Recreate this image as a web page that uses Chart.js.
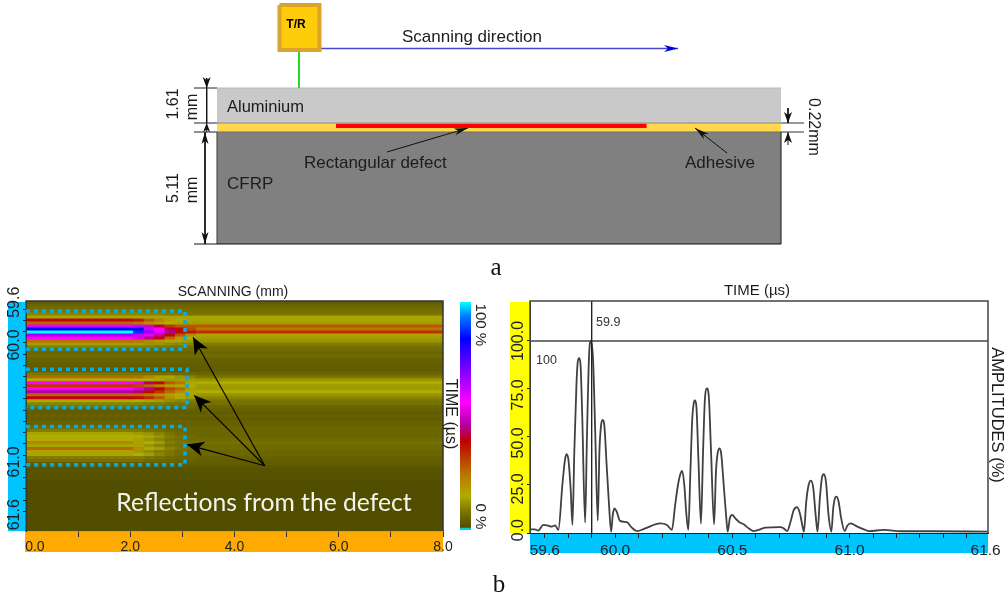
<!DOCTYPE html>
<html>
<head>
<meta charset="utf-8">
<title>Defect reflections</title>
<script src="https://cdn.jsdelivr.net/npm/chart.js@4"></script>
<style>
  html, body { margin: 0; background: #fff; }
  #page { position: relative; width: 1007px; height: 598px; overflow: hidden; }
  canvas { position: absolute; left: 0; top: 0; }
</style>
</head>
<body>
<div id="page"></div>
<script>
// C-SCAN DATA: one line per time row, one value per scan column (amplitude %)
const scanEdges = [0, 2.05, 2.25, 2.45, 2.65, 2.85, 3.05, 3.25, 8];
const heatRows = [
  [3,3,3,3,3,3,3,3],[5,5,5,5,5,5,5,5],[6,6,6,6,6,6,6,6],[8,8,8,8,8,7,7,7],
  [10,10,10,10,9,9,8,8],[14,14,14,14,14,14,14,14],[38,36,28,22,17,15,14,14],[26,24,20,17,15,14,13,13],
  [60,62,50,42,32,28,28,28],[84,82,62,56,42,38,30,24],[100,88,68,58,46,38,36,33],[66,62,54,48,38,28,20,17],
  [56,52,45,38,26,18,15,13],[25,24,22,19,16,14,13,12],[13,13,12,12,11,10,10,9],[9,9,9,8,8,8,7,7],
  [6,6,6,6,6,6,6,6],[5,5,5,5,5,5,5,5],[6,6,6,6,6,6,6,6],[4,4,4,4,4,4,4,4],
  [4,4,4,4,4,4,4,4],[3,3,3,3,3,3,3,3],[3,3,3,3,3,3,3,3],[3,3,3,3,3,3,3,3],
  [8,8,8,7,7,6,6,5],[26,25,22,18,14,12,10,8],[15,15,15,14,13,13,13,12],[56,54,44,38,28,24,16,15],
  [32,30,26,22,18,16,15,13],[56,52,46,39,30,26,18,13],[46,44,38,33,26,20,16,15],[26,26,24,20,17,15,14,12],
  [40,38,34,28,20,16,13,10],[16,15,14,13,11,10,9,8],[10,10,9,9,8,8,7,7],[7,7,7,7,6,6,6,5],
  [4,4,4,4,4,4,4,4],[3,3,3,3,3,3,3,3],[4,4,4,4,4,4,4,4],[3,3,3,3,3,3,3,3],
  [4,4,4,4,4,4,4,4],[4,4,4,4,4,4,4,4],[6,6,6,5,5,5,5,5],[9,9,8,7,6,5,5,5],
  [14,13,12,10,8,6,5,5],[15,15,14,12,9,7,6,5],[15,14,12,10,8,7,6,6],[22,18,15,13,9,8,7,7],
  [14,14,12,10,8,7,6,6],[26,20,16,13,10,8,7,6],[14,13,11,9,8,6,6,5],[17,15,13,10,8,6,5,5],
  [9,9,8,7,6,5,5,4],[7,7,6,5,5,4,4,3],[3,3,3,3,3,3,3,3],[2,2,2,2,2,2,2,2],
  [1,1,1,1,1,1,1,1],[1,1,1,1,1,1,1,1],[1,1,1,1,1,1,1,1],[1,1,1,1,1,1,1,1],
  [0,0,0,0,0,0,0,0],[0,0,0,0,0,0,0,0],[0,0,0,0,0,0,0,0],[0,0,0,0,0,0,0,0],
  [0,0,0,0,0,0,0,0],[0,0,0,0,0,0,0,0],[0,0,0,0,0,0,0,0],[0,0,0,0,0,0,0,0],
  [0,0,0,0,0,0,0,0],[0,0,0,0,0,0,0,0],[0,0,0,0,0,0,0,0],[0,0,0,0,0,0,0,0],
  [0,0,0,0,0,0,0,0],[0,0,0,0,0,0,0,0],[0,0,0,0,0,0,0,0],[0,0,0,0,0,0,0,0],
  [0,0,0,0,0,0,0,0]
];
const scanTicks = [0.17, 1, 2, 3, 4, 5, 6, 7, 8];
const scanTickLabels = ["0.0", "", "2.0", "", "4.0", "", "6.0", "", "8.0"];
// tick marks every 0.1 µs, labels sit where the picture prints them
const depthTicks = [59.7, 59.8, 59.9, 60.0, 60.1, 60.2, 60.3, 60.4, 60.5, 60.6, 60.7, 60.8, 60.9, 61.0, 61.1, 61.2, 61.3, 61.4, 61.5];
const depthLabelTicks = [59.59, 59.97, 61.01, 61.48];
const depthLabels = ["59.6", "60.0", "61.0", "61.6"];

// defect boxes and arrows on the C-scan, in mm and µs
const boxScanEnd = [3.05, 3.09, 3.05];
const boxTimeTop = [59.708, 60.204, 60.691];
const boxTimeBottom = [60.033, 60.529, 61.016];
const arrowScanTip = [3.205, 3.225, 3.09];
const arrowTimeTip = [59.931, 60.426, 60.845];
const arrowApex = [4.58, 61.025];

// colour scale
const cmapStops = [0, 8, 15, 24, 39, 46, 56, 84, 94, 100];
const cmapColors = ["#524e00", "#7a7500", "#b0ac00", "#b87800", "#c00000", "#b000a0", "#ff00ff", "#0000ff", "#0080ff", "#00ffff"];
const cbarTicks = [6, 90];
const cbarTickLabels = ["0 %", "100 %"];

// A-SCAN TRACE
const traceTimes = [
  59.637,59.658,59.672,59.694,59.715,59.729,59.744,59.758,
  59.775,59.786,59.793,59.801,59.811,59.818,
  59.826,59.835,59.840,59.846,59.852,59.860,59.872,
  59.880,59.889,59.897,59.906,59.915,59.926,
  59.933,59.940,59.947,59.954,59.964,59.974,59.983,
  59.990,59.997,60.007,60.021,60.050,60.071,60.093,60.128,60.192,60.221,60.242,
  60.256,60.268,60.279,60.286,60.295,60.303,60.312,
  60.321,60.329,60.335,60.340,60.346,60.355,60.366,
  60.375,60.383,60.392,60.400,60.409,60.422,
  60.430,60.437,60.446,60.453,60.463,60.473,60.480,
  60.489,60.499,60.513,60.527,60.548,60.570,60.591,60.641,60.705,60.719,60.734,
  60.748,60.762,60.776,60.788,60.798,60.805,
  60.815,60.825,60.835,60.845,60.855,60.863,
  60.873,60.882,60.890,60.899,60.910,60.922,
  60.930,60.937,60.944,60.953,60.964,60.979,
  60.990,61.004,61.033,61.061,61.083,61.147,61.218,61.360,61.588
];
const traceAmps = [
  1.9,1.9,1.2,4.2,3.8,3.3,4.0,1.6,
  25,38,41,38,21.5,4.2,
  42.4,77,88.4,91,88.4,59.7,5.4,
  51,92.7,100,90,53,6.4,
  42.4,56,58.9,56,35,14.6,0.7,
  9.4,12.8,11,6.3,5.6,2.8,1,2.4,5,4.2,1.6,
  14.6,25,31,32.3,25,11,1.6,
  32,59.7,67.5,69,66.7,39,4.9,
  42.4,70,75.3,70,42.4,4.5,
  32,41.5,44,40.6,25,9.4,0.7,
  7.6,9.4,7.6,5.9,4.5,2.4,1,2.8,3.1,2.4,1,
  5.9,12,13.4,10.2,4.2,0.7,
  16.3,25,27.3,23.3,9.4,0.7,
  18,28.8,30.6,26.7,9.4,0.7,
  12.8,18,18.9,16.3,7.6,1,
  3.8,5,3.3,1.9,1,1.6,0.9,0.9,0.7
];
const timeTicks = [59.7, 59.8, 59.9, 60.0, 60.1, 60.2, 60.3, 60.4, 60.5, 60.6, 60.7, 60.8, 60.9, 61.0, 61.1, 61.2, 61.3, 61.4, 61.5, 61.58];
const timeTickLabels = ["59.6", "", "", "60.0", "", "", "", "", "60.5", "", "", "", "", "61.0", "", "", "", "", "", "61.6"];
const ampTicks = [0, 25, 50, 75, 100];
const ampLabelTicks = [1.5, 23, 46.9, 71.9, 100];
const ampLabels = ["0.0", "25.0", "50.0", "75.0", "100.0"];
const cursorTime = 59.9;
const cursorAmp = 100;

// SCHEMATIC: x is % of plate length, y is drawing depth from the plate top
const layerNames = ["Aluminium", "Adhesive", "CFRP"];
const layerTops = [0, 35, 44];
const layerBottoms = [35, 44, 156];
const layerColors = ["#c9c9c9", "#ffd84d", "#808080"];
const defectSpan = [21.1, 76.2];
const defectDepth = [35.7, 40];

const W = 1007, H = 598;
const SANS = '"Liberation Sans", Arial, sans-serif';
const CLEAR = "rgba(0,0,0,0)";
const page = document.getElementById("page");

function newCanvas() {
  const c = document.createElement("canvas");
  c.width = W;
  c.height = H;
  page.appendChild(c);
  return c.getContext("2d");
}

function hexRgb(h) {
  return [1, 3, 5].map((i) => parseInt(h.substr(i, 2), 16));
}

function ampColor(v) {
  let i = 0;
  while (i < cmapStops.length - 2 && v > cmapStops[i + 1]) i++;
  const f = (v - cmapStops[i]) / (cmapStops[i + 1] - cmapStops[i]);
  const a = hexRgb(cmapColors[i]), b = hexRgb(cmapColors[i + 1]);
  return `rgb(${a.map((c, k) => Math.round(c + (b[k] - c) * f)).join(",")})`;
}

// text labels, x/y are page pixels
function notes(list) {
  return {
    id: "notes",
    afterDraw(chart) {
      const c = chart.ctx;
      list.forEach((n) => {
        c.save();
        c.translate(n.x, n.y);
        c.rotate(((n.rot || 0) * Math.PI) / 180);
        c.font = n.font || `16px ${SANS}`;
        c.fillStyle = n.color || "#1c1c1c";
        c.textAlign = n.align || "center";
        c.textBaseline = "middle";
        c.fillText(n.text, 0, 0);
        c.restore();
      });
    }
  };
}

// coloured axis strips, plot background and frame
function chrome(o) {
  return {
    id: "chrome",
    beforeDraw(chart) {
      const c = chart.ctx, a = chart.chartArea;
      (o.strips || []).forEach((s) => {
        c.fillStyle = s[4];
        c.fillRect(s[0], s[1], s[2] - s[0], s[3] - s[1]);
      });
      if (o.base) {
        c.fillStyle = o.base;
        c.fillRect(a.left, a.top, a.right - a.left, a.bottom - a.top);
      }
    },
    afterDraw(chart) {
      if (!o.frame) return;
      const c = chart.ctx, a = chart.chartArea;
      c.strokeStyle = o.frame;
      c.lineWidth = o.frameWidth || 1.5;
      c.beginPath();
      c.moveTo(a.left, a.bottom);
      c.lineTo(a.left, a.top);
      c.lineTo(a.right, a.top);
      c.lineTo(a.right, a.bottom);
      c.stroke();
    }
  };
}

// stealth arrow heads on the ends of line datasets
const arrowHeads = {
  id: "arrowHeads",
  afterDatasetsDraw(chart) {
    const c = chart.ctx;
    chart.data.datasets.forEach((d, i) => {
      if (!d.head) return;
      const pts = chart.getDatasetMeta(i).data;
      const draw = (p, q) => {
        const ang = Math.atan2(p.y - q.y, p.x - q.x);
        c.save();
        c.translate(p.x, p.y);
        c.rotate(ang);
        c.fillStyle = d.headColor || d.borderColor;
        c.beginPath();
        c.moveTo(0, 0);
        c.lineTo(-d.head[0], -d.head[1] / 2);
        c.lineTo(-d.head[0] * 0.72, 0);
        c.lineTo(-d.head[0], d.head[1] / 2);
        c.closePath();
        c.fill();
        c.restore();
      };
      draw(pts[pts.length - 1], pts[pts.length - 2]);
      if (d.headBoth) draw(pts[0], pts[1]);
    });
  }
};

function fitWidth(px) { return (s) => { s.width = px; }; }
function fitHeight(px) { return (s) => { s.height = px; }; }

function fixedTicks(values) {
  return (s) => { s.ticks = values.map((v) => ({ value: v })); };
}

const baseOptions = {
  responsive: false,
  animation: false,
  events: [],
  plugins: { legend: { display: false }, tooltip: { enabled: false } }
};

function line(points, color, width, extra) {
  return Object.assign({
    data: points.map((p) => ({ x: p[0], y: p[1] })),
    showLine: true, pointRadius: 0, borderColor: color, borderWidth: width,
    clip: false, tension: 0
  }, extra || {});
}

function band(x0, x1, top, bottom, color) {
  return {
    data: [{ x: x0, y: top }, { x: x1, y: top }],
    showLine: true, pointRadius: 0, borderWidth: 0, borderColor: color,
    backgroundColor: color, fill: { value: bottom }, clip: false
  };
}

// SCHEMATIC CHART
new Chart(newCanvas(), {
  type: "scatter",
  data: {
    datasets: [
      line([[11.08, -83], [18.17, -83], [18.17, -38], [11.08, -38], [11.08, -83]], "#daa32b", 4),
      band(11.08, 18.17, -83, -38, "#ffcc0c"),
      line([[14.54, -36], [14.54, 0]], "#22dd22", 2),
      line([[18.44, -39.5], [81.74, -39.5]], "#4a4ad0", 1.5, { head: [14, 7], headColor: "#0000dd" }),
      // leaders
      line([[30.14, 64], [44.5, 40]], "#111", 1, { head: [14, 7] }),
      line([[90.43, 65], [84.75, 40]], "#111", 1, { head: [14, 7] }),
      // dimension lines
      line([[-4.08, 0], [0, 0]], "#222", 1),
      line([[-4.08, 35], [0, 35]], "#222", 1),
      line([[-4.08, 44], [0, 44]], "#222", 1),
      line([[-4.08, 156], [100, 156]], "#111", 1.2),
      line([[100, 44], [100, 156]], "#333", 1.2),
      line([[0, 44], [0, 156]], "#555", 1.2),
      line([[100, 35], [104.08, 35]], "#333", 1),
      line([[100, 44], [104.08, 44]], "#333", 1),
      line([[-1.83, -10], [-1.83, 0]], "#111", 1, { head: [11, 8] }),
      line([[-1.83, 0], [-1.83, 35]], "#111", 1),
      line([[-1.83, 44], [-1.83, 35]], "#111", 1, { head: [9, 7] }),
      line([[-2.13, 44], [-2.13, 156]], "#111", 1, { head: [12, 7], headBoth: true }),
      line([[101.24, 20], [101.24, 35]], "#111", 1, { head: [11, 8] }),
      line([[101.24, 57], [101.24, 44]], "#111", 1, { head: [11, 8] }),
      // layer edges
      line([[0, 0], [100, 0]], "#b4bcbc", 1),
      line([[0, 35], [100, 35]], "#8a8a70", 1),
      line([[0, 44], [100, 44]], "#6f6f60", 1),
      // layers, the defect above the adhesive
      band(defectSpan[0], defectSpan[1], defectDepth[0], defectDepth[1], "#ff0000"),
      ...layerNames.map((n, i) => band(0, 100, layerTops[i], layerBottoms[i], layerColors[i]))
    ]
  },
  options: Object.assign({}, baseOptions, {
    layout: { padding: { left: 160, top: 0, right: W - 840, bottom: H - 250 } },
    scales: {
      x: { type: "linear", display: false, min: -10.106, max: 110.46 },
      y: { type: "linear", display: false, min: -88, max: 162, reverse: true }
    }
  }),
  plugins: [arrowHeads, notes([
    { text: "T/R", x: 296, y: 25, font: `bold 12px ${SANS}`, color: "#000" },
    { text: "Scanning direction", x: 402, y: 37, align: "left", font: `17px ${SANS}` },
    { text: "Aluminium", x: 227, y: 107, align: "left", font: `16.5px ${SANS}` },
    { text: "CFRP", x: 227, y: 184, align: "left", font: `17px ${SANS}` },
    { text: "Rectangular defect", x: 304, y: 163, align: "left", font: `17px ${SANS}` },
    { text: "Adhesive", x: 685, y: 163, align: "left", font: `17px ${SANS}` },
    { text: "1.61", x: 174, y: 104, rot: -90 },
    { text: "mm", x: 193, y: 107, rot: -90 },
    { text: "5.11", x: 174, y: 188, rot: -90 },
    { text: "mm", x: 193, y: 190, rot: -90 },
    { text: "0.22mm", x: 813, y: 127, rot: 90 },
    { text: "a", x: 496, y: 268, font: '25px "Liberation Serif", serif', color: "#111" },
    { text: "b", x: 499, y: 585, font: '25px "Liberation Serif", serif', color: "#111" }
  ])]
});

// C-SCAN HEAT MAP
const scanMin = 0, scanMax = 8, timeTop = 59.623, timeBottom = 61.58;
new Chart(newCanvas(), {
  type: "bar",
  data: {
    labels: heatRows.map((_, i) => i),
    datasets: scanEdges.slice(0, -1).map((edge, j) => ({
      data: heatRows.map(() => [edge, scanEdges[j + 1]]),
      backgroundColor: heatRows.map((r) => ampColor(r[j])),
      barPercentage: 1,
      categoryPercentage: 1,
      grouped: false
    }))
  },
  options: Object.assign({}, baseOptions, {
    indexAxis: "y",
    layout: { padding: { left: 0, top: 301, right: W - 443, bottom: 0 } },
    scales: {
      y: { type: "category", display: false, offset: true },
      x: {
        type: "linear", position: "bottom", min: scanMin, max: scanMax,
        afterFit: fitHeight(H - 531), afterBuildTicks: fixedTicks(scanTicks),
        border: { color: "#6b4a00", width: 1.5 },
        grid: {
          drawOnChartArea: false, tickLength: 6, tickWidth: 1,
          tickColor: (c) => (c.index === 0 ? CLEAR : "#333")
        },
        ticks: {
          autoSkip: false, maxRotation: 0, minRotation: 0, padding: 2, color: "#222",
          font: { family: SANS, size: 14 },
          callback: (v, i) => scanTickLabels[i]
        }
      },
      t: {
        type: "linear", position: "left", reverse: true, min: timeTop, max: timeBottom,
        afterFit: fitWidth(26), afterBuildTicks: fixedTicks(depthTicks.concat(depthLabelTicks)),
        border: { color: "#222", width: 1 },
        grid: {
          drawOnChartArea: false, tickLength: 3, tickWidth: 1,
          tickColor: (c) => (c.index >= depthTicks.length ? CLEAR : "#222")
        },
        ticks: {
          autoSkip: false, minRotation: 90, maxRotation: 90, crossAlign: "center", padding: -7.5, color: "#222",
          font: { family: SANS, size: 16 },
          callback: (v, i) => (i >= depthTicks.length ? depthLabels[i - depthTicks.length] : "")
        }
      }
    }
  }),
  plugins: [chrome({
    base: cmapColors[0],
    frame: "#333",
    strips: [[8, 302, 25, 531, "#00c4ff"], [25, 532, 443, 552, "#ffaa00"]]
  }), notes([
    { text: "SCANNING (mm)", x: 233, y: 292, font: `14px ${SANS}` },
    { text: "TIME (µs)", x: 450, y: 414, rot: 90 }
  ])]
});

// C-SCAN OVERLAY: dotted boxes and arrows
new Chart(newCanvas(), {
  type: "scatter",
  data: {
    datasets: [
      ...boxScanEnd.map((end, i) => line([
        [0, boxTimeTop[i]], [end, boxTimeTop[i]], [end, boxTimeBottom[i]], [0, boxTimeBottom[i]]
      ], "#00aeef", 3.5, { borderDash: [4, 4] })),
      ...arrowScanTip.map((tip, i) => line([arrowApex, [tip, arrowTimeTip[i]]], "#000", 1.2, { head: [17, 15] }))
    ]
  },
  options: Object.assign({}, baseOptions, {
    layout: { padding: { left: 26, top: 301, right: W - 443, bottom: H - 531 } },
    scales: {
      x: { type: "linear", display: false, min: scanMin, max: scanMax },
      y: { type: "linear", display: false, reverse: true, min: timeTop, max: timeBottom }
    }
  }),
  plugins: [arrowHeads, notes([
    { text: "Reflections from the defect", x: 264, y: 503, font: '24.7px Lato, "Open Sans", sans-serif', color: "#f4f4ee" }
  ])]
});

// COLOUR BAR
new Chart(newCanvas(), {
  type: "bar",
  data: {
    labels: ["scale"],
    datasets: [{
      data: [[0, 100]],
      barPercentage: 1,
      categoryPercentage: 1,
      backgroundColor(c) {
        const a = c.chart.chartArea;
        if (!a) return "#888";
        const g = c.chart.ctx.createLinearGradient(0, a.bottom, 0, a.top);
        g.addColorStop(0, "#00d0e0");
        g.addColorStop(0.008, "#00d0e0");
        g.addColorStop(0.012, cmapColors[0]);
        cmapStops.forEach((s, i) => { if (i > 0) g.addColorStop(s / 100, cmapColors[i]); });
        return g;
      }
    }]
  },
  options: Object.assign({}, baseOptions, {
    layout: { padding: { left: 460, top: 302, right: 0, bottom: H - 530 } },
    scales: {
      x: { display: false },
      y: {
        type: "linear", position: "right", min: 0, max: 100,
        afterFit: fitWidth(W - 471), afterBuildTicks: fixedTicks(cbarTicks),
        border: { display: false },
        grid: { display: false, drawTicks: false },
        ticks: {
          autoSkip: false, minRotation: -90, maxRotation: -90, crossAlign: "center", padding: -12, color: "#222",
          font: { family: SANS, size: 15 },
          callback: (v, i) => cbarTickLabels[i]
        }
      }
    }
  })
});

// A-SCAN LINE CHART
new Chart(newCanvas(), {
  type: "scatter",
  data: {
    datasets: [
      line([[cursorTime, 0], [cursorTime, 120.8]], "#222", 1.4),
      line([[59.637, cursorAmp], [61.59, cursorAmp]], "#444", 1.6),
      {
        data: traceTimes.map((t, i) => ({ x: t, y: traceAmps[i] })),
        showLine: true, pointRadius: 0, borderColor: "#404040", borderWidth: 1.8,
        cubicInterpolationMode: "monotone"
      }
    ]
  },
  options: Object.assign({}, baseOptions, {
    layout: { padding: { left: 0, top: 301, right: W - 988, bottom: 0 } },
    scales: {
      x: {
        type: "linear", position: "bottom", min: 59.637, max: 61.59,
        afterFit: fitHeight(H - 533), afterBuildTicks: fixedTicks(timeTicks),
        border: { color: "#222", width: 1 },
        grid: {
          drawOnChartArea: false, tickLength: 5, tickWidth: 1,
          tickColor: (c) => (c.index === timeTicks.length - 1 ? CLEAR : "#222")
        },
        ticks: {
          autoSkip: false, maxRotation: 0, minRotation: 0, padding: 3, color: "#222",
          font: { family: SANS, size: 15.5 },
          callback: (v, i) => timeTickLabels[i]
        }
      },
      y: {
        type: "linear", position: "left", min: 0, max: 120.8,
        afterFit: fitWidth(530), afterBuildTicks: fixedTicks(ampTicks.concat(ampLabelTicks)),
        border: { color: "#333", width: 1 },
        grid: {
          drawOnChartArea: false, tickLength: 3, tickWidth: 1,
          tickColor: (c) => (c.index >= ampTicks.length ? CLEAR : "#222")
        },
        ticks: {
          autoSkip: false, minRotation: 90, maxRotation: 90, crossAlign: "center", padding: -12, color: "#222",
          font: { family: SANS, size: 16 },
          callback: (v, i) => (i >= ampTicks.length ? ampLabels[i - ampTicks.length] : "")
        }
      }
    }
  }),
  plugins: [chrome({
    frame: "#444",
    strips: [[510, 302, 529, 533, "#ffff00"], [530, 533, 988, 553, "#00c4ff"]]
  }), notes([
    { text: "TIME (µs)", x: 757, y: 291, font: `15px ${SANS}` },
    { text: "59.9", x: 596, y: 323, align: "left", font: `12.5px ${SANS}`, color: "#333" },
    { text: "100", x: 536, y: 361, align: "left", font: `12.5px ${SANS}`, color: "#333" },
    { text: "AMPLITUDES (%)", x: 997, y: 415, rot: 90, font: `16.5px ${SANS}` }
  ])]
});
</script>
</body>
</html>
